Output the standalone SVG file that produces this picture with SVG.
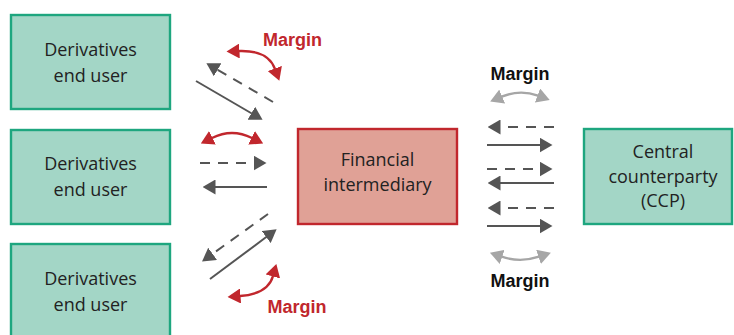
<svg xmlns="http://www.w3.org/2000/svg" width="734" height="335" viewBox="0 0 734 335">
<defs>
<style>
.green{fill:#a3d6c6;stroke:#1ea67f;stroke-width:2.4}
.red{fill:#e0a196;stroke:#c1272d;stroke-width:2.4}
.t{font-family:"Open Sans","Liberation Sans",sans-serif;font-size:18px;fill:#222;text-anchor:middle}
.m{font-family:"Liberation Sans",Arial,sans-serif;font-size:18px;font-weight:bold;text-anchor:middle}
.flow{fill:none;stroke:#555;stroke-width:2}
.dash{stroke-dasharray:10 8}
.rarc{fill:none;stroke:#c1272d;stroke-width:2.4}
.garc{fill:none;stroke:#a6a6a6;stroke-width:2.4}
</style>
<marker id="ah" viewBox="0 0 13 15" refX="0.5" refY="7.5" markerWidth="13" markerHeight="15" markerUnits="userSpaceOnUse" orient="auto-start-reverse"><path d="M0,0 L13,7.5 L0,15 z" fill="#555"/></marker>
<marker id="ahr" viewBox="0 0 13 15" refX="0.5" refY="7.5" markerWidth="13" markerHeight="15" markerUnits="userSpaceOnUse" orient="auto-start-reverse"><path d="M0,0 L13,7.5 L0,15 z" fill="#c1272d"/></marker>
<marker id="ahg" viewBox="0 0 13 15" refX="0.5" refY="7.5" markerWidth="13" markerHeight="15" markerUnits="userSpaceOnUse" orient="auto-start-reverse"><path d="M0,0 L13,7.5 L0,15 z" fill="#a6a6a6"/></marker>
</defs>
<rect width="734" height="335" fill="#fff"/>
<g id="user1"><rect class="green" x="11" y="15" width="159" height="94"/><text class="t" x="90.5" y="56">Derivatives</text><text class="t" x="90.5" y="82">end user</text></g>
<g id="user2"><rect class="green" x="11" y="130" width="159" height="94"/><text class="t" x="90.5" y="170">Derivatives</text><text class="t" x="90.5" y="196">end user</text></g>
<g id="user3"><rect class="green" x="11" y="244" width="159" height="100"/><text class="t" x="90.5" y="285">Derivatives</text><text class="t" x="90.5" y="311">end user</text></g>
<g id="intermediary"><rect class="red" x="298" y="129" width="159" height="95"/><text class="t" x="377.5" y="166">Financial</text><text class="t" x="377.5" y="191">intermediary</text></g>
<g id="ccp"><rect class="green" x="584" y="129" width="148" height="95"/><text class="t" x="663" y="158">Central</text><text class="t" x="663" y="183">counterparty</text><text class="t" x="663" y="207">(CCP)</text></g>
<g id="connectors">
<line class="flow" x1="196" y1="81" x2="251.8" y2="113.5" marker-end="url(#ah)"/>
<line class="flow dash" x1="273" y1="102" x2="217.2" y2="69.5" marker-end="url(#ah)"/>
<path class="rarc" d="M239,51 Q268,50 275,69" marker-start="url(#ahr)" marker-end="url(#ahr)"/>
<path class="rarc" d="M212,138 Q232,128 252,138" marker-start="url(#ahr)" marker-end="url(#ahr)"/>
<line class="flow dash" x1="200" y1="163" x2="254" y2="163" marker-end="url(#ah)"/>
<line class="flow" x1="267" y1="187" x2="215" y2="187" marker-end="url(#ah)"/>
<line class="flow dash" x1="268" y1="214" x2="212.2" y2="254.1" marker-end="url(#ah)"/>
<line class="flow" x1="210" y1="279" x2="266.6" y2="236.8" marker-end="url(#ah)"/>
<path class="rarc" d="M240,296 Q268,294 273,276" marker-start="url(#ahr)" marker-end="url(#ahr)"/>
<path class="garc" d="M501.7,96.7 Q520,89 538,95.7" marker-start="url(#ahg)" marker-end="url(#ahg)"/>
<line class="flow dash" x1="554" y1="127" x2="500" y2="127" marker-end="url(#ah)"/>
<line class="flow" x1="487" y1="145" x2="540" y2="145" marker-end="url(#ah)"/>
<line class="flow dash" x1="487" y1="169" x2="540" y2="169" marker-end="url(#ah)"/>
<line class="flow" x1="554" y1="183" x2="500" y2="183" marker-end="url(#ah)"/>
<line class="flow dash" x1="554" y1="208" x2="500" y2="208" marker-end="url(#ah)"/>
<line class="flow" x1="487" y1="226" x2="540" y2="226" marker-end="url(#ah)"/>
<path class="garc" d="M501.7,256.7 Q520,263 539,256.7" marker-start="url(#ahg)" marker-end="url(#ahg)"/>
</g>
<g id="labels">
<text class="m" x="292.5" y="46" fill="#c1272d">Margin</text>
<text class="m" x="297" y="313" fill="#c1272d">Margin</text>
<text class="m" x="520" y="80" fill="#111">Margin</text>
<text class="m" x="520" y="287" fill="#111">Margin</text>
</g>
</svg>
